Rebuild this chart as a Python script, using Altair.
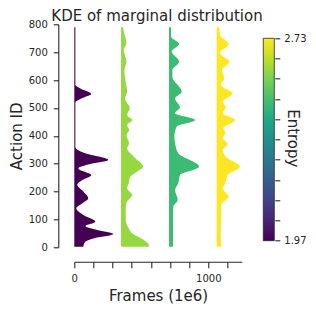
import altair as alt
import pandas as pd

# ---- data ----
series = ["run A", "run B", "run C", "run D"]
entropy = [1.97, 2.61, 2.49, 2.73]
base_frames = [0, 349, 707, 1062]

p_act = [789, 600, 582, 570, 550, 535, 519, 505, 360, 355, 337, 313, 299, 283, 259, 241, 224, 200, 176, 158, 140, 116, 92, 76, 62, 48, 32, 20, 2]
p_w = [8, 8, 8, 45, 127, 57, 8, 8, 8, 11, 82, 254, 119, 30, 127, 60, 22, 67, 104, 60, 15, 67, 157, 82, 172, 291, 142, 82, 67]

g_act = [789, 775, 732, 708, 666, 636, 606, 558, 534, 499, 475, 457, 439, 421, 403, 373, 355, 325, 289, 271, 253, 230, 212, 188, 164, 146, 98, 68, 50, 26, 8, 2]
g_w = [15, 20, 40, 20, 40, 25, 30, 45, 30, 65, 45, 84, 45, 60, 40, 60, 45, 95, 164, 119, 69, 57, 45, 82, 45, 35, 35, 57, 82, 169, 207, 207]

t_act = [789, 756, 729, 702, 666, 636, 612, 558, 534, 502, 481, 457, 433, 397, 373, 337, 289, 259, 230, 206, 170, 146, 98, 50, 2]
t_w = [15, 15, 75, 20, 75, 25, 25, 95, 45, 82, 45, 194, 57, 40, 45, 69, 224, 82, 69, 45, 65, 32, 30, 30, 30]

y_act = [789, 762, 729, 696, 666, 636, 606, 582, 552, 522, 502, 481, 457, 427, 409, 391, 371, 349, 325, 289, 259, 230, 212, 182, 152, 98, 50, 2]
y_w = [20, 25, 90, 25, 95, 40, 57, 32, 119, 45, 69, 45, 139, 50, 65, 45, 82, 45, 69, 174, 82, 65, 45, 90, 35, 35, 30, 35]

x_ticks = [0, 142.857, 285.714, 428.571, 571.429, 714.286, 857.143, 1000, 1142.857]
y_ticks = [0, 100, 200, 300, 400, 500, 600, 700, 800]
cb_ticks = [1.97, 2.046, 2.122, 2.198, 2.274, 2.35, 2.426, 2.502, 2.578, 2.654, 2.73]
cb_range = [1.97, 2.73]
cb_title = "Entropy"
main_title = "KDE of marginal distribution"

# ---- build table ----
acts = [p_act, g_act, t_act, y_act]
widths = [p_w, g_w, t_w, y_w]
rows = []
for name, ent, base, a_list, w_list in zip(series, entropy, base_frames, acts, widths):
    for a, w in zip(a_list, w_list):
        rows.append({"series": name, "entropy": ent, "base": base, "action": a, "xend": base + w})
df = pd.DataFrame(rows).sort_values(["series", "action"])

ink = "#262626"
viridis_stops = ["#440154", "#482475", "#414487", "#355f8d", "#2a788e", "#21918c",
                 "#22a884", "#44bf70", "#7ad151", "#bddf26", "#fde725"]

W, H = 167.5, 223

areas = alt.Chart(df).mark_area(orient="horizontal", interpolate="monotone", opacity=1).encode(
    y=alt.Y("action:Q", scale=alt.Scale(domain=[0, 800], nice=False),
            axis=alt.Axis(title="Action ID", values=y_ticks, format="d", offset=16,
                          tickSize=5, labelPadding=6, titlePadding=4, grid=False)),
    x=alt.X("xend:Q", stack=False, scale=alt.Scale(domain=[0, 1250], nice=False, zero=False),
            axis=alt.Axis(title="Frames (1e6)", values=x_ticks, format="d", offset=14.4,
                          tickSize=6, labelPadding=6, titlePadding=5, grid=False,
                          labelFlush=False,
                          labelExpr="datum.value == 0 || datum.value == 1000 ? datum.label : ''")),
    x2="base:Q",
    color=alt.Color("entropy:Q", scale=alt.Scale(scheme="viridis", domain=cb_range), legend=None),
    detail="series:N",
)

cb_df = pd.DataFrame({"lo": [cb_range[0]], "hi": [cb_range[1]]})
colorbar = alt.Chart(cb_df).mark_rect(
    fill=alt.Gradient(gradient="linear", x1=0, y1=1, x2=0, y2=0,
                      stops=[alt.GradientStop(offset=i / 10, color=c) for i, c in enumerate(viridis_stops)]),
    stroke=ink, strokeWidth=0.8,
).encode(
    y=alt.Y("lo:Q", scale=alt.Scale(domain=cb_range, range=[216.4, 14], nice=False, zero=False),
            axis=alt.Axis(orient="right", title=None, values=cb_ticks, offset=33, tickSize=5,
                          labelPadding=4, domain=False, grid=False,
                          labelExpr="datum.value <= 1.97 || datum.value >= 2.73 ? format(datum.value, '.2f') : ''")),
    y2="hi:Q",
    x=alt.value(189),
    x2=alt.value(200),
)

cb_label = alt.Chart(pd.DataFrame({"t": [cb_title]})).mark_text(
    angle=90, fontSize=15, align="center", baseline="alphabetic", color=ink
).encode(x=alt.value(213.7), y=alt.value(114), text="t:N")

title_mark = alt.Chart(pd.DataFrame({"t": [main_title]})).mark_text(
    fontSize=15, align="center", baseline="alphabetic", color=ink
).encode(x=alt.value(82.7), y=alt.value(-3.5), text="t:N")

chart = alt.layer(areas, colorbar, cb_label, title_mark).resolve_scale(y="independent").properties(
    width=W, height=H,
    autosize=alt.AutoSizeParams(type="none"),
    padding={"left": 66.3, "top": 16.3, "right": 66.2, "bottom": 56.7},
).configure(font="DejaVu Sans").configure_view(stroke=None).configure_axis(
    domainColor=ink, tickColor=ink, labelColor=ink, titleColor=ink,
    labelFontSize=10, titleFontSize=15, titleFontWeight="normal",
    domainWidth=1.1, tickWidth=1.1, labelFont="DejaVu Sans", titleFont="DejaVu Sans",
)

chart.save("out.html", embed_options={"renderer": "svg", "actions": False})
